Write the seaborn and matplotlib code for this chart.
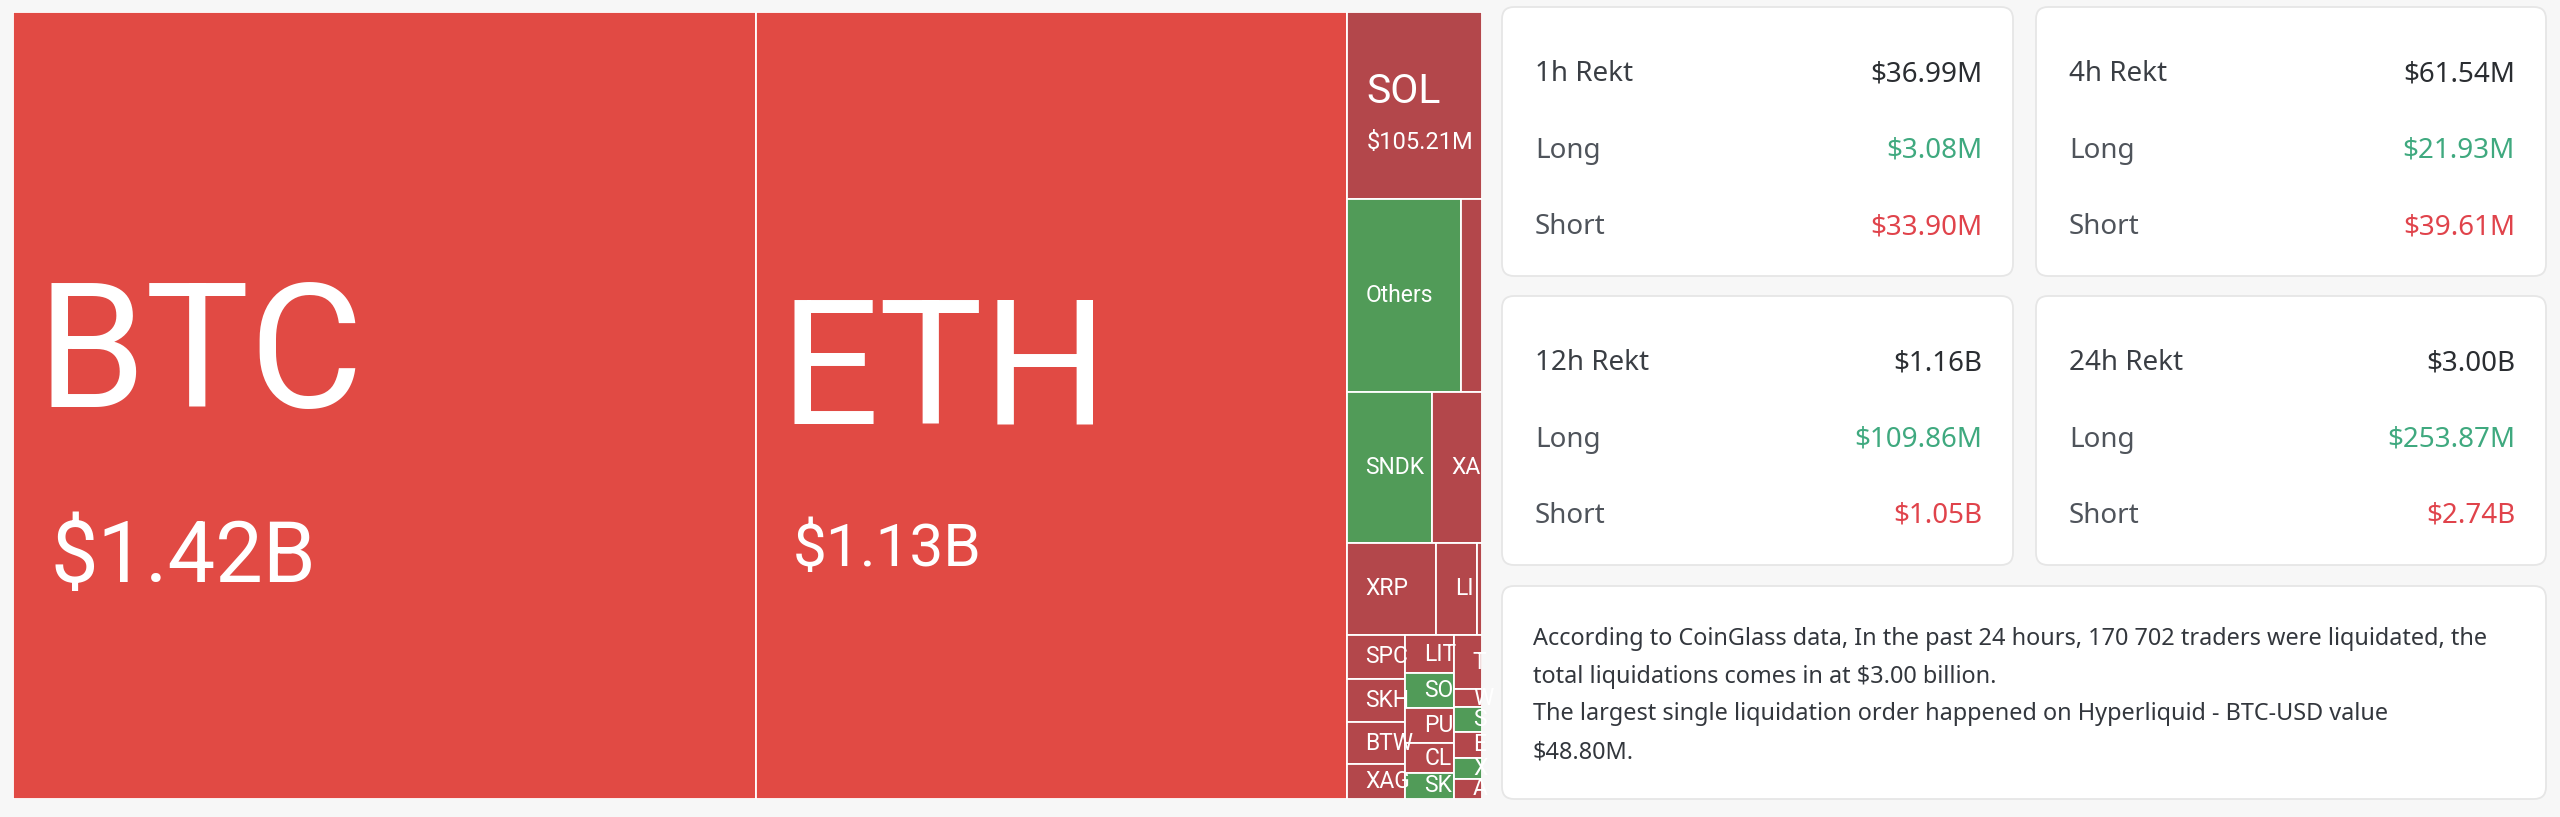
import matplotlib
matplotlib.use("Agg")
import matplotlib.pyplot as plt
from matplotlib.patches import Rectangle, FancyBboxPatch
import seaborn as sns

# ---------------- data ----------------
# treemap tiles (size estimated from tile area, in $M)
coins = ["BTC", "ETH", "SOL", "Others", "", "SNDK", "XA", "XRP", "LI", "",
         "SPC", "SKH", "BTW", "XAG",
         "LIT", "SO", "PU", "CL", "SK",
         "T", "W", "S", "E", "X", "A"]
tile_size = [1420, 1130, 61.5, 53.7, 9.8, 31.4, 18.2, 20.1, 9.2, 1.1,
             6.2, 6.2, 5.9, 5.0,
             4.5, 4.1, 4.2, 3.5, 3.1,
             3.7, 1.2, 1.7, 1.8, 1.4, 1.4]
# dominant side of liquidations: "S+" strong short, "S" short, "L" long
side = ["S+", "S+", "S", "L", "S", "L", "S", "S", "S", "S",
        "S", "S", "S", "S",
        "S", "L", "S", "S", "L",
        "S", "S", "L", "S", "L", "S"]
# value labels shown on the largest tiles ($M)
shown_value = {0: 1420, 1: 1130, 2: 105.21}

# grouping of tiles into strips ('h' = side by side, 'v' = stacked)
groups = ("h", [0, 1, ("v", [2, ("h", [3, 4]), ("h", [5, 6]), ("h", [7, 8, 9]),
                             ("h", [("v", [10, 11, 12, 13]),
                                    ("v", [14, 15, 16, 17, 18]),
                                    ("v", [19, 20, 21, 22, 23, 24])])])])

# summary cards ($M)
periods = ["1h", "4h", "12h", "24h"]
rekt_total = [36.99, 61.54, 1160, 3000]
rekt_long = [3.08, 21.93, 109.86, 253.87]
rekt_short = [33.90, 39.61, 1050, 2740]

summary_lines = [
    "According to CoinGlass data, In the past 24 hours, 170 702 traders were liquidated, the",
    "total liquidations comes in at $3.00 billion.",
    "The largest single liquidation order happened on Hyperliquid - BTC-USD value",
    "$48.80M.",
]

# ---------------- style ----------------
sns.set_theme(style="white")
plt.rcParams["font.family"] = ["Noto Sans", "DejaVu Sans"]

tile_colors = {"S+": "#E14A44", "S": "#B3474B", "L": "#519B58"}
bg_color = "#F7F7F7"
green_txt = "#3FA97F"
red_txt = "#E0434B"
TILE_FONT = ["Roboto", "DejaVu Sans"]


def fmt(v):
    return f"${v / 1000:.2f}B" if v >= 1000 else f"${v:.2f}M"


def node_sum(n):
    if isinstance(n, int):
        return tile_size[n]
    return sum(node_sum(c) for c in n[1])


def layout(n, x, y, w, h, out):
    if isinstance(n, int):
        out[n] = (x, y, w, h)
        return
    direction, children = n
    total = node_sum(n)
    pos = 0.0
    for c in children:
        f = node_sum(c) / total
        if direction == "h":
            layout(c, x + pos * w, y, w * f, h, out)
        else:
            layout(c, x, y + pos * h, w, h * f, out)
        pos += f


W, H = 2560, 817
fig = plt.figure(figsize=(W / 100, H / 100), dpi=100, facecolor=bg_color)

# background / cards axis in pixel coordinates
bg = fig.add_axes([0, 0, 1, 1])
bg.set_xlim(0, W)
bg.set_ylim(H, 0)
bg.axis("off")
bg.set_facecolor(bg_color)

card_cols = [(1502, 2013), (2036, 2546)]
card_rows = [(7, 276), (296, 565)]
for i, p in enumerate(periods):
    (x0, x1) = card_cols[i % 2]
    (y0, y1) = card_rows[i // 2]
    bg.add_patch(FancyBboxPatch((x0, y0), x1 - x0, y1 - y0,
                                boxstyle="round,pad=0,rounding_size=12",
                                fc="white", ec="#E6E6E6", lw=1.3))
    tb = y0 + 74
    bg.text(x0 + 33, tb, f"{p} Rekt", fontsize=20, weight="bold",
            color="#3A3E44", va="baseline", ha="left")
    bg.text(x1 - 31, tb, fmt(rekt_total[i]), fontsize=20, color="#2A2D31",
            va="baseline", ha="right")
    bg.text(x0 + 33, tb + 76.5, "Long", fontsize=20, color="#4F545B",
            va="baseline", ha="left")
    bg.text(x1 - 31, tb + 76.5, fmt(rekt_long[i]), fontsize=20, color=green_txt,
            va="baseline", ha="right")
    bg.text(x0 + 33, tb + 153, "Short", fontsize=20, color="#4F545B",
            va="baseline", ha="left")
    bg.text(x1 - 31, tb + 153, fmt(rekt_short[i]), fontsize=20, color=red_txt,
            va="baseline", ha="right")

# summary text card
bg.add_patch(FancyBboxPatch((1502, 586), 2546 - 1502, 799 - 586,
                            boxstyle="round,pad=0,rounding_size=12",
                            fc="white", ec="#E6E6E6", lw=1.3))
for k, line in enumerate(summary_lines):
    bg.text(1533, 645 + k * 37.7, line, fontsize=16.9, color="#33373D",
            va="baseline", ha="left")

# ---------------- treemap ----------------
TX0, TY0, TX1, TY1 = 13, 12, 1482, 799
PW, PH = TX1 - TX0, TY1 - TY0
tm = fig.add_axes([TX0 / W, (H - TY1) / H, PW / W, PH / H])
tm.set_xlim(0, 1)
tm.set_ylim(1, 0)
tm.axis("off")

rects = {}
layout(groups, 0.0, 0.0, 1.0, 1.0, rects)

PX = 100 / 72  # pixels per point
for i, name in enumerate(coins):
    x, y, w, h = rects[i]
    r = Rectangle((x, y), w, h, fc=tile_colors[side[i]], ec="white", lw=1.3)
    tm.add_patch(r)
    wpx, hpx = w * PW, h * PH
    cy_px = (y + h / 2) * PH
    if i in shown_value:
        area = wpx * hpx
        name_pt = min(126, 0.185 * area ** 0.5)
        em = name_pt * PX
        val_pt = max(17, 61 * (wpx / 742) ** 1.5)
        vem = val_pt * PX
        cap = 0.711 * em
        gap = 0.361 * em + 1.32 * vem
        center = cy_px + 0.155 * em
        name_base = center - (gap - cap) / 2
        pad = 19 + 0.03 * (em - 21)
        indent = max(0.0, 0.1 * (em - 40))
        t1 = tm.text(x + pad / PW, name_base / PH, name, fontsize=name_pt,
                     color="white", family=TILE_FONT, va="baseline", ha="left")
        t2 = tm.text(x + (pad + indent) / PW, (name_base + gap) / PH,
                     fmt(shown_value[i]), fontsize=val_pt, color="white",
                     family=TILE_FONT, va="baseline", ha="left")
        t1.set_clip_path(r)
        t2.set_clip_path(r)
    elif name:
        t = tm.text(x + 19 / PW, cy_px / PH, name, fontsize=16.5, color="white",
                    family=TILE_FONT, va="center", ha="left")
        t.set_clip_path(r)

fig.savefig("out.png", dpi=100, facecolor=bg_color)
